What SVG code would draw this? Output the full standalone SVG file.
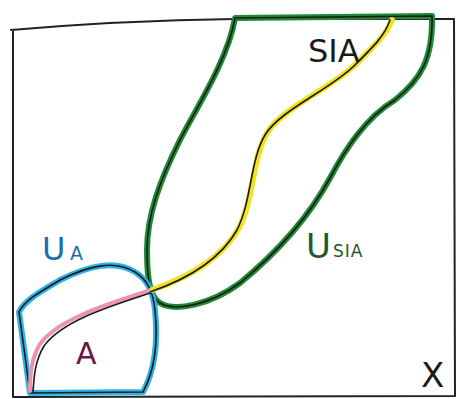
<svg xmlns="http://www.w3.org/2000/svg" width="464" height="399" viewBox="0 0 464 399">
<style>
.frame{fill:none;stroke:#222;stroke-width:2;stroke-linecap:round;stroke-linejoin:round}
.ink{fill:none;stroke:#1a1a1a;stroke-width:1.6;stroke-linecap:round;stroke-linejoin:round}
.green{fill:none;stroke:#1e8a36;stroke-width:6;stroke-linejoin:round;stroke-linecap:round}
.blue{fill:none;stroke:#2fb3e6;stroke-width:6;stroke-linejoin:round;stroke-linecap:round}
.yellow{fill:none;stroke:#f2e21f;stroke-width:6;stroke-linecap:round}
.pink{fill:none;stroke:#eb93b0;stroke-width:4;stroke-linecap:round}
.lbl{font-family:"DejaVu Sans","Liberation Sans",sans-serif}
</style>
<rect width="464" height="399" fill="#ffffff"/>
<g id="frame">
<path class="frame" d="M11,30 C80,24 160,20 235,19 L454,19 L455,396 L13,397 L13,30"/>
</g>
<g id="U_SIA">
<path class="green" d="M235,18 L432,16 C433,60 420,80 395,100 C365,118 345,150 330,178 C310,215 280,250 240,283 C210,305 175,312 160,303 C150,297 147,280 147,250 C147,215 160,180 180,140 C195,110 228,60 235,18 Z"/>
<path class="ink" d="M235,18 L432,16 C433,60 420,80 395,100 C365,118 345,150 330,178 C310,215 280,250 240,283 C210,305 175,312 160,303 C150,297 147,280 147,250 C147,215 160,180 180,140 C195,110 228,60 235,18 Z" stroke-width="1.2"/>
</g>
<g id="U_A">
<path class="blue" d="M30,393 L19,312 C25,300 40,292 60,280 C90,265 115,260 135,272 C148,280 153,292 155,310 C158,340 155,370 143,392 Z"/>
<path class="ink" d="M30,393 L19,312 C25,300 40,292 60,280 C90,265 115,260 135,272 C148,280 153,292 155,310 C158,340 155,370 143,392 Z" stroke-width="1.2"/>
</g>
<g id="SIA">
<path class="yellow" d="M152,290 C187,278 222,258 239,228 C254,198 252,158 267,133 C282,108 332,88 357,63 C377,43 387,33 392,20"/>
<path class="ink" d="M150,292 C185,280 220,260 237,230 C252,200 250,160 265,135 C280,110 330,90 355,65 C375,45 385,35 390,20"/>
</g>
<g id="A">
<path class="pink" d="M148,291 C108,304 58,319 40,344 C31,359 30,374 30,391"/>
<path class="ink" d="M150,293 C110,306 62,321 44,346 C35,361 34,376 33,392"/>
</g>
<g id="labels">
<text class="lbl" x="42" y="260" font-size="32" fill="#1a6fb0">U</text>
<text class="lbl" x="70" y="260" font-size="19" fill="#1a6fb0">A</text>
<text class="lbl" x="306" y="258" font-size="34" fill="#1f5a2a">U</text>
<text class="lbl" x="333" y="257" font-size="17" fill="#1f5a2a" letter-spacing="1">SIA</text>
<text class="lbl" x="308" y="62" font-size="32" fill="#1a1a1a">SIA</text>
<text class="lbl" x="76" y="364" font-size="30" fill="#6a1a40">A</text>
<text class="lbl" x="421" y="387" font-size="34" fill="#1a1a1a">X</text>
</g>
</svg>
